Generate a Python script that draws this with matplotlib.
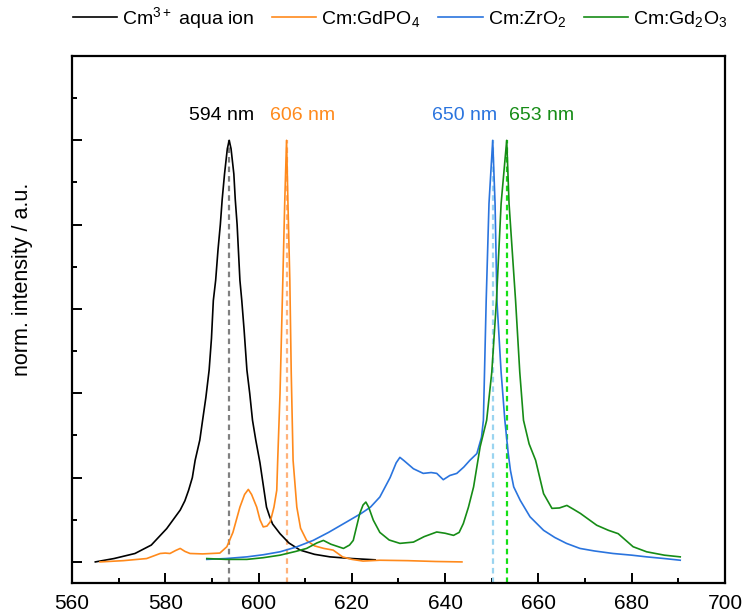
import matplotlib
matplotlib.use("Agg")
import matplotlib.pyplot as plt
from matplotlib.ticker import MultipleLocator, NullFormatter

plt.rcParams['font.family'] = ['Liberation Sans', 'DejaVu Sans']
plt.rcParams['mathtext.fontset'] = 'custom'
plt.rcParams['mathtext.rm'] = 'Liberation Sans'
plt.rcParams['mathtext.it'] = 'Liberation Sans:italic'
plt.rcParams['mathtext.default'] = 'regular'

# ---------------- data ----------------
aqua_x = [565.0, 569, 573.5, 577, 580.3, 583.2, 584.2, 585, 585.8, 586.4, 587.4, 588.0, 588.7,
          589.4, 589.9, 590.3, 590.8, 591.3, 591.8, 592.2, 592.7, 593.3, 593.7, 594.1, 594.7,
          595.0, 595.4, 596.0, 596.4, 596.9, 597.5, 598.1, 598.7, 599.4, 600.3, 600.9, 601.7,
          602.3, 603, 604.6, 606.5, 608.9, 612, 615.3, 620, 625]
aqua_y = [0.0, 0.008, 0.02, 0.04, 0.079, 0.123, 0.145, 0.17, 0.2, 0.241, 0.289, 0.336, 0.39,
          0.455, 0.53, 0.62, 0.668, 0.74, 0.80, 0.86, 0.92, 0.98, 1.0, 0.98, 0.92,
          0.86, 0.80, 0.668, 0.62, 0.55, 0.455, 0.40, 0.336, 0.289, 0.235, 0.19, 0.13,
          0.11, 0.09, 0.067, 0.045, 0.028, 0.018, 0.012, 0.008, 0.005]

gdpo4_x = [566, 571, 576, 578.9, 580, 581, 582.2, 583.2, 584.2, 585.3, 588, 591.7, 593.2, 594.5,
           596, 597, 597.8, 598.5, 599.6, 600.3, 601, 601.8, 602.5, 603.3, 603.9, 604.1, 604.6,
           605.2, 605.6, 606.0, 606.3, 606.7, 607.0, 607.4, 608.2, 609, 610.3, 612, 614, 616,
           618, 620, 622.4, 626, 632, 638, 643.6]
gdpo4_y = [0.0, 0.003, 0.008, 0.02, 0.021, 0.02, 0.027, 0.032, 0.025, 0.02, 0.019, 0.021, 0.036,
           0.07, 0.13, 0.16, 0.172, 0.16, 0.13, 0.10, 0.083, 0.085, 0.095, 0.13, 0.17, 0.241,
           0.40, 0.668, 0.85, 1.0, 0.85, 0.668, 0.45, 0.241, 0.13, 0.08, 0.051, 0.038, 0.032,
           0.028, 0.012, 0.006, 0.002, 0.004, 0.003, 0.001, 0.0]

zro2_x = [588.9, 593, 597.5, 601, 604.6, 608, 611.7, 615, 618.9, 622, 624, 626, 628.2, 629.5,
          630.3, 631.2, 633.2, 635.3, 637, 638.2, 639.6, 641, 642.5, 644, 645.3, 646.8, 647.8,
          648.2, 648.8, 649.4, 650.2, 650.7, 651.1, 652, 652.8, 653.5, 654, 654.7, 656.1, 658.2,
          661.1, 663.5, 666, 668.9, 672, 676, 680, 683.2, 687, 690.4]
zro2_y = [0.006, 0.008, 0.012, 0.017, 0.024, 0.035, 0.051, 0.07, 0.095, 0.115, 0.13, 0.154, 0.2,
          0.235, 0.248, 0.24, 0.221, 0.21, 0.212, 0.21, 0.195, 0.205, 0.21, 0.225, 0.241, 0.257,
          0.296, 0.336, 0.62, 0.85, 1.0, 0.85, 0.62, 0.45, 0.336, 0.26, 0.217, 0.178, 0.146,
          0.107, 0.075, 0.058, 0.044, 0.032, 0.026, 0.02, 0.016, 0.012, 0.008, 0.004]

gd2o3_x = [588.9, 593, 597.5, 601, 604.6, 608, 610.3, 612.5, 613.9, 615.5, 618.2, 619.5, 620.3,
           621.7, 622.4, 623, 623.6, 624.6, 626, 628, 630.3, 633.2, 635.5, 638.2, 640, 641.8,
           643, 643.9, 645, 646.1, 647.5, 648.9, 650, 651, 652, 653.2, 653.7, 655.1, 656,
           656.8, 658, 659.4, 661.1, 662.9, 664.5, 666.1, 667.5, 669, 672.5, 675, 677.1, 680.3,
           683.2, 687, 690.4]
gd2o3_y = [0.008, 0.006, 0.006, 0.01, 0.016, 0.025, 0.032, 0.045, 0.051, 0.042, 0.032, 0.04, 0.051,
           0.115, 0.135, 0.142, 0.13, 0.099, 0.07, 0.052, 0.044, 0.047, 0.06, 0.071, 0.068, 0.063,
           0.07, 0.091, 0.13, 0.178, 0.273, 0.336, 0.45, 0.62, 0.85, 1.0, 0.85, 0.62, 0.45,
           0.336, 0.28, 0.241, 0.162, 0.127, 0.128, 0.134, 0.125, 0.115, 0.087, 0.075, 0.067,
           0.036, 0.024, 0.016, 0.012]

series_labels = [r'Cm$^{3+}$ aqua ion', r'Cm:GdPO$_4$', r'Cm:ZrO$_2$', r'Cm:Gd$_2$O$_3$']
series_colors = ['#000000', '#FF8A1C', '#2A74DE', '#168C16']
peak_pos = [593.7, 606.0, 650.2, 653.2]
peak_text = ['594 nm', '606 nm', '650 nm', '653 nm']
dash_colors = ['#808080', '#FFB27A', '#9AD4F0', '#14E014']
text_offsets = [-1.6, 3.5, -6.0, 7.5]

xticks = [560, 580, 600, 620, 640, 660, 680, 700]

# ---------------- plot ----------------
fig = plt.figure(figsize=(7.45, 6.15), dpi=100)
ax = fig.add_axes([72 / 745, 1 - 583 / 615, (725 - 72) / 745, (583 - 56) / 615])

xs = [aqua_x, gdpo4_x, zro2_x, gd2o3_x]
ys = [aqua_y, gdpo4_y, zro2_y, gd2o3_y]
handles = []
for x, y, c, lab in zip(xs, ys, series_colors, series_labels):
    h, = ax.plot(x, y, color=c, lw=1.2, label=lab, zorder=3)
    handles.append(h)

ymin, ymax = -0.05, 1.2
for p, c in zip(peak_pos, dash_colors):
    ax.vlines(p, ymin, 1.0, colors=c, linestyles=(0, (2.5, 1.8)), lw=1.6, zorder=2)

for p, t, c, o in zip(peak_pos, peak_text, series_colors, text_offsets):
    ax.text(p + o, 1.06, t, color=c, fontsize=14, ha='center', va='center')

ax.set_xlim(560, 700)
ax.set_ylim(ymin, ymax)
ax.set_xticks(xticks)
ax.xaxis.set_minor_locator(MultipleLocator(10))
ax.yaxis.set_major_locator(MultipleLocator(0.2))
ax.yaxis.set_minor_locator(MultipleLocator(0.1))
ax.yaxis.set_major_formatter(NullFormatter())
ax.tick_params(which='both', direction='in', top=False, right=False)
ax.tick_params(which='major', length=7.5, width=1.4, labelsize=15, pad=8)
ax.tick_params(which='minor', length=3.8, width=1.4)
for s in ax.spines.values():
    s.set_linewidth(1.6)

ax.set_ylabel('norm. intensity / a.u.', fontsize=15.5)
ax.yaxis.set_label_coords(-0.06, 0.577)

fig.legend(handles=handles, labels=series_labels, loc='center', ncol=4,
           bbox_to_anchor=(400 / 745, 1 - 18 / 615), frameon=False, fontsize=14,
           handlelength=2.3, handletextpad=0.25, columnspacing=0.9, borderaxespad=0)

fig.savefig('out.png', dpi=100)
